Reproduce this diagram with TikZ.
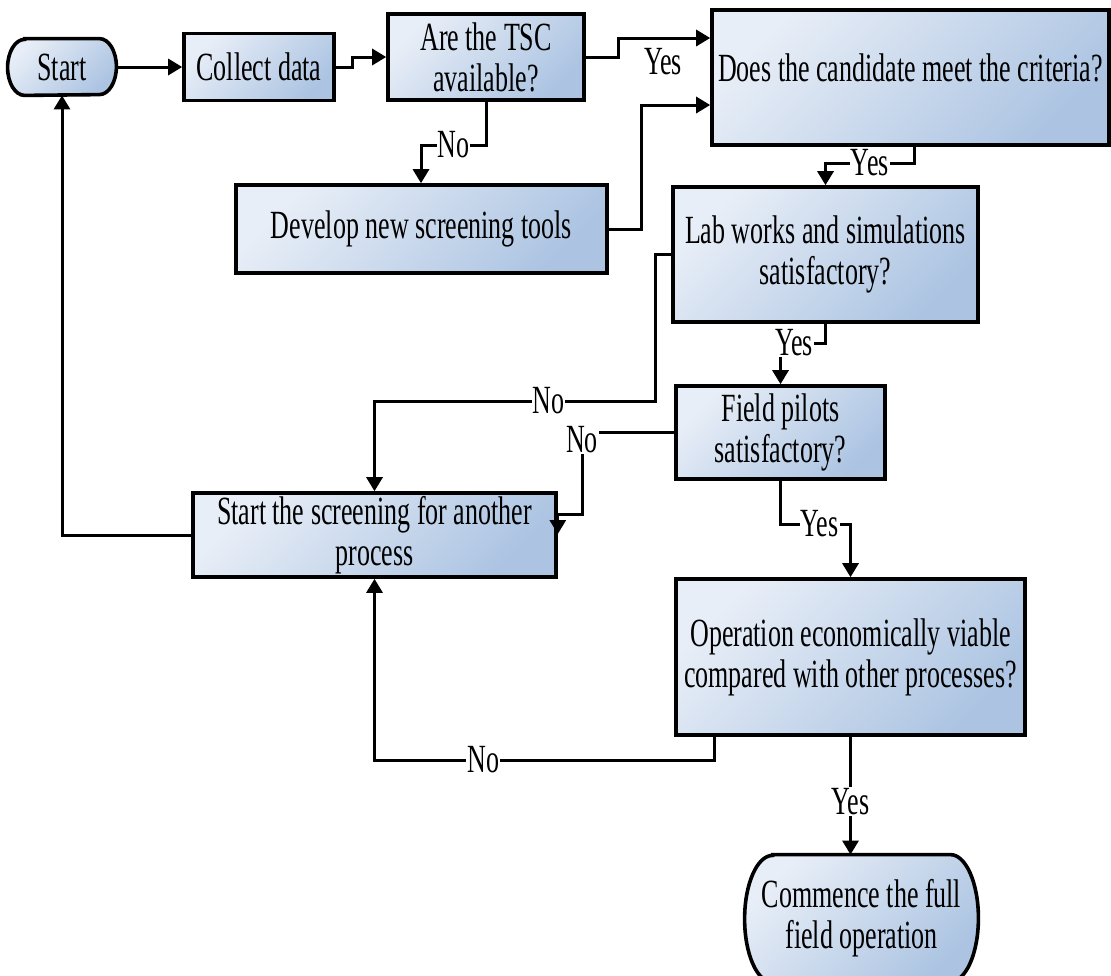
\documentclass[tikz,border=0pt]{standalone}
\usepackage{fontspec}
\setmainfont{Liberation Serif}[FakeStretch=0.65]
\usetikzlibrary{arrows.meta,backgrounds}
\definecolor{boxlight}{RGB}{232,238,247}
\definecolor{boxdark}{RGB}{172,196,226}
\tikzset{
  box/.style={draw, line width=1.8pt, top color=boxlight, bottom color=boxdark, shading angle=45, align=center, inner sep=0pt},
  termtext/.style={align=center, inner sep=0pt},
  termfill/.style={draw, line width=1.8pt, top color=boxlight, bottom color=boxdark, shading angle=45},
  lbl/.style={fill=white, inner sep=0.5pt},
  arr/.style={line width=1.5pt, -{Triangle[length=7pt,width=8pt]}}
}
% terminator outline: node, x radius, y radius
\newcommand\termshape[3]{%
  \path[termfill] ([xshift=#2]#1.north west) -- ([xshift=-#2]#1.north east)
    arc[start angle=90, end angle=-90, x radius=#2, y radius=#3]
    -- ([xshift=#2]#1.south west)
    arc[start angle=270, end angle=90, x radius=#2, y radius=#3] -- cycle;}
\begin{document}
\begin{tikzpicture}[x=0.5pt, y=-0.5pt, font=\fontsize{20}{20.5}\selectfont]
\useasboundingbox (0,0) rectangle (1111,975);
% boxes
\node[termtext, minimum width=54pt, minimum height=28pt] (start) at (62,67) {Start};
\node[box, minimum width=75pt, minimum height=33.5pt] (collect) at (259,67) {Collect data};
\node[box, minimum width=98pt, minimum height=43pt] (tsc) at (486,57) {Are the TSC\\available?};
\node[box, minimum width=198.5pt, minimum height=67.5pt, text depth=10pt] (crit) at (910.5,77.5) {Does the candidate meet the criteria?};
\node[box, minimum width=185.5pt, minimum height=44pt] (develop) at (421.5,229) {Develop new screening tools};
\node[box, minimum width=152.5pt, minimum height=67.5pt] (lab) at (825.5,254.5) {Lab works and simulations\\satisfactory?};
\node[box, minimum width=104.5pt, minimum height=46.5pt] (field) at (780.5,432.5) {Field pilots\\satisfactory?};
\node[box, minimum width=181.5pt, minimum height=42pt] (scr) at (374.5,535) {Start the screening for another\\process};
\node[box, minimum width=174.5pt, minimum height=78pt] (econ) at (850.5,657) {Operation economically viable\\compared with other processes?};
\node[termtext, minimum width=116.5pt, minimum height=63.5pt] (comm) at (861.5,918.5) {Commence the full\\field operation};
\begin{scope}[on background layer]
\termshape{start}{8.5pt}{14pt}
\termshape{comm}{14pt}{31.75pt}
\end{scope}
% connectors
\draw[arr] (start) -- (collect);
\draw[arr] (collect.east) -- (352,67) |- (tsc.west);
\draw[arr] (tsc.south) |- node[lbl, pos=.75] (no1) {No} (421,145) -- (develop.north -| 421,0);
\draw[arr] (tsc.east) -- (618,57) |- (crit.west |- 0,38);
\node (yes1) at (663,62) {Yes};
\draw[arr] (develop.east) -- (641,229) |- (crit.west |- 0,105);
\draw[arr] (crit.south -| 914,0) |- node[lbl, pos=.75] (yes2) {Yes} (lab.north |- 0,163) -- (lab.north);
\draw[arr] (lab.south) |- node[lbl, pos=.85] (yes3) {Yes} (field.north |- 0,343) -- (field.north);
\draw[arr] (lab.west) -- (655,254.5) |- node[lbl, pos=.69] (no2) {No} (scr.north |- 0,401) -- (scr.north);
\draw[arr] (field.west) -- (582,432.5) node[lbl, yshift=-3.5pt] (no3) {No} -- (582,514) -- (scr.east |- 0,514) -- (scr.east |- 0,534);
\draw[arr] (field.south) |- node[lbl, pos=.78] (yes4) {Yes} (econ.north |- 0,524) -- (econ.north);
\draw[arr] (econ.south -| 714,0) |- node[lbl, pos=.84] (no4) {No} (scr.south |- 0,760) -- (scr.south);
\draw[arr] (econ.south) -- node[lbl, pos=.55] (yes5) {Yes} (econ.south |- comm.north);
\draw[arr] (scr.west) -| (start.south);
\end{tikzpicture}
\end{document}
